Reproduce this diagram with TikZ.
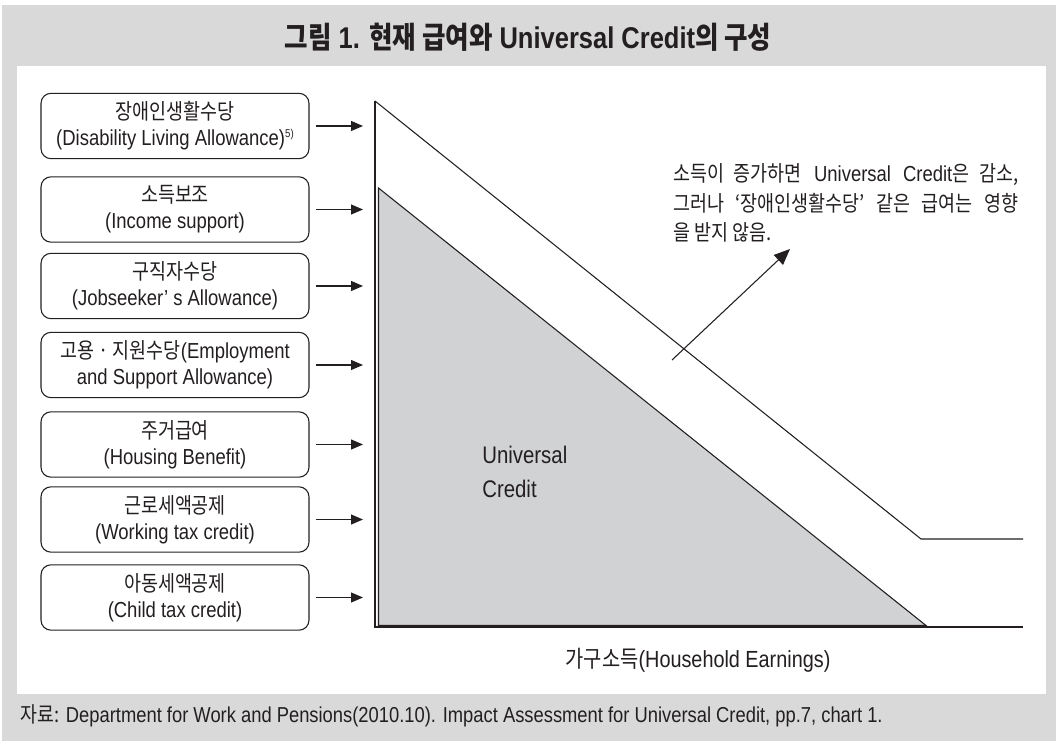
\documentclass[tikz,border=0pt]{standalone}
\usepackage{fontspec}
\setmainfont{Liberation Sans}[FakeStretch=0.85]
\newfontfamily\krf{Noto Sans CJK KR}[Scale=1.0,FakeStretch=0.85]
\newcommand\K[1]{{\krf #1}}
\usetikzlibrary{arrows.meta}
\definecolor{bggray}{HTML}{D9D9D9}
\definecolor{trigray}{HTML}{D1D2D4}
\definecolor{ink}{HTML}{231F20}
\tikzset{
  benefit/.style={draw=ink, line width=0.8pt, rounded corners=7.5pt,
    minimum width=201pt, minimum height=49pt, align=center, inner sep=0pt,
    text=ink, font=\fontsize{16.3}{19.5}\selectfont},
  feed/.style={draw=ink, line width=0.8pt, -{Triangle[length=9pt,width=7.5pt]}, shorten <=4.5pt},
  axisline/.style={draw=ink, line width=0.8pt},
  txt/.style={text=ink, inner sep=0pt},
  note/.style={txt, anchor=base west, font=\fontsize{16.3}{19}\selectfont},
}
\begin{document}
\begin{tikzpicture}[x=0.75pt,y=-0.75pt]
\useasboundingbox (0,0) rectangle (1056,741);
\fill[bggray] (2,5) rectangle (1056,741);
\fill[white] (17,66) rectangle (1046,694);

\node[txt, anchor=base, font=\bfseries\fontsize{22.5}{26}\selectfont] (title) at (528,49)
  {\K{그림} 1. \K{현재 급여와} Universal Credit\K{의 구성}};

% benefit boxes
\node[benefit] (b1) at (175,126) {\K{장애인생활수당}\\(Disability Living Allowance)\raisebox{6pt}{\fontsize{8.5}{8.5}\selectfont 5)}};
\node[benefit] (b2) at (175,209.5) {\K{소득보조}\\(Income support)};
\node[benefit] (b3) at (175,286) {\K{구직자수당}\\(Jobseeker’ s Allowance)};
\node[benefit] (b4) at (175,365) {\K{고용 · 지원수당}(Employment\\and Support Allowance)};
\node[benefit] (b5) at (175,444.5) {\K{주거급여}\\(Housing Benefit)};
\node[benefit] (b6) at (175,519.5) {\K{근로세액공제}\\(Working tax credit)};
\node[benefit] (b7) at (175,597.5) {\K{아동세액공제}\\(Child tax credit)};

\foreach \i in {1,...,7} {
  \coordinate (a\i) at (363,0 |- b\i.east);
  \draw[feed] (b\i.east) -- (a\i);
}

% graph
\coordinate (top) at (375,101);
\coordinate (orig) at (375,627);
\coordinate (kink) at (921,539);
\coordinate (endU) at (1023,539);
\coordinate (endB) at (1023,627);
\coordinate (t1) at (378.5,188);
\coordinate (t2) at (378.5,625.5);
\coordinate (t3) at (926,625.5);

\filldraw[fill=trigray, draw=ink, line width=0.8pt] (t1) -- (t2) -- (t3) -- cycle;
\draw[axisline] (top) -- (orig) -- (endB);
\draw[axisline] (top) -- (kink) -- (endU);

\node[txt, anchor=base west, font=\fontsize{18}{22}\selectfont] (uc1) at (482,463) {Universal};
\node[txt, anchor=base west, font=\fontsize{18}{22}\selectfont] (uc2) at (482,497) {Credit};

% annotation
\node[note] (n1) at (673,182)
  {\makebox[258.75pt][s]{\K{소득이 증가하면} Universal Credit\K{은 감소,}}};
\node[note] (n2) at (673,212)
  {\makebox[258.75pt][s]{\K{그러나 ‘장애인생활수당’ 같은 급여는 영향}}};
\node[note] (n3) at (673,241)
  {\K{을 받지 않음.}};
\coordinate (arS) at (672,360);
\coordinate (arE) at (790,249);
\draw[draw=ink, line width=0.8pt, -{Triangle[length=12pt,width=10pt]}] (arS) -- (arE);

\node[txt, anchor=base, font=\fontsize{17.5}{21}\selectfont] (xlab) at (698,667)
  {\K{가구소득}(Household Earnings)};

\node[txt, anchor=base west, font=\fontsize{16.2}{19}\selectfont] (src) at (20,722)
  {\K{자료:} Department for Work and Pensions(2010.10). Impact Assessment for Universal Credit, pp.7, chart 1.};
\end{tikzpicture}
\end{document}
